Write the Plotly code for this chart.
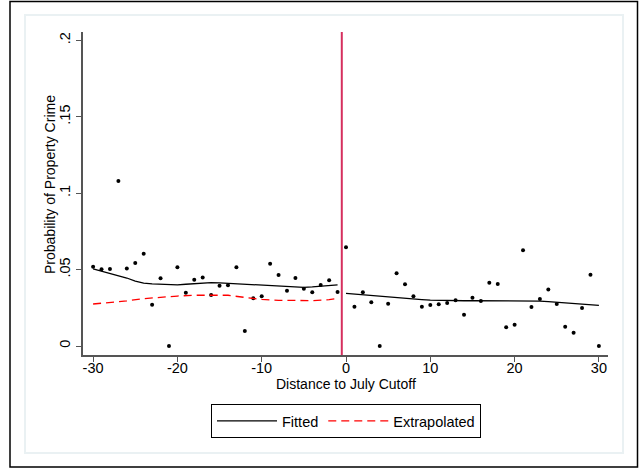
import plotly.graph_objects as go

# ---- data ----
days = list(range(-30, 31))
prob = [0.0519, 0.0502, 0.0504, 0.108, 0.0508, 0.0543, 0.0604, 0.027, 0.0443, 0.0,
        0.0515, 0.0349, 0.0434, 0.0449, 0.0334, 0.0395, 0.0397, 0.0515, 0.0098, 0.0312,
        0.0325, 0.0539, 0.0465, 0.0362, 0.0445, 0.0375, 0.0351, 0.0399, 0.043, 0.0353,
        0.0646, 0.0257, 0.0351, 0.0286, 0.0, 0.0277, 0.0476, 0.0404, 0.0325, 0.0257,
        0.0268, 0.0273, 0.0281, 0.0299, 0.0205, 0.0316, 0.0294, 0.0414, 0.0406, 0.0122,
        0.0139, 0.0626, 0.0255, 0.0308, 0.0369, 0.0275, 0.0126, 0.0087, 0.0249, 0.0467,
        0.0]

fit_left_x = list(range(-30, 0))
fit_left_y = [0.0505, 0.049, 0.0476, 0.046, 0.0445, 0.0425, 0.0412, 0.0406, 0.0403, 0.0401,
              0.0400, 0.0404, 0.0409, 0.0413, 0.0415, 0.0413, 0.0410, 0.0406, 0.0402, 0.0400,
              0.0398, 0.0394, 0.0390, 0.0387, 0.0385, 0.0384, 0.0387, 0.0390, 0.0395, 0.0400]

fit_right_x = list(range(0, 31))
fit_right_y = [0.0345, 0.0340, 0.0335, 0.0330, 0.0325, 0.0320, 0.0316, 0.0312, 0.0308, 0.0304,
               0.0300, 0.0298, 0.0297, 0.0296, 0.0296, 0.0296, 0.0296, 0.0295, 0.0295, 0.0295,
               0.0295, 0.0294, 0.0294, 0.0294, 0.0290, 0.0286, 0.0280, 0.0274, 0.0270, 0.0268,
               0.0266]

extrap_x = [-30, -28, -26, -24, -22, -20, -18, -16, -14, -12, -10, -8, -6, -4, -2, -1]
extrap_y = [0.0275, 0.0283, 0.0295, 0.0310, 0.0320, 0.0327, 0.0332, 0.0334, 0.0332, 0.0318,
            0.0305, 0.0299, 0.0296, 0.0297, 0.0303, 0.0312]

cutoff = -0.5
y_ticks = [0, 0.05, 0.1, 0.15, 0.2]
y_ticklabels = ["0", ".05", ".1", ".15", ".2"]
x_ticks = [-30, -20, -10, 0, 10, 20, 30]
x_ticklabels = ["-30", "-20", "-10", "0", "10", "20", "30"]

FONT = "Liberation Sans, Arial, sans-serif"
W, H = 643, 468
L, R, T, B = 83, 35, 32, 113
pw, ph = W - L - R, H - T - B


def px(x):
    return (x - L) / pw


def py(y):
    return (H - B - y) / ph


fig = go.Figure()
fig.add_trace(go.Scatter(x=days, y=prob, mode="markers",
                         marker=dict(color="black", size=4), showlegend=False))
fig.add_trace(go.Scatter(x=fit_left_x, y=fit_left_y, mode="lines",
                         line=dict(color="black", width=1.3), name="Fitted"))
fig.add_trace(go.Scatter(x=fit_right_x, y=fit_right_y, mode="lines",
                         line=dict(color="black", width=1.3), showlegend=False))
fig.add_trace(go.Scatter(x=extrap_x, y=extrap_y, mode="lines",
                         line=dict(color="#ff0000", width=1.3, dash="8px,5px"),
                         name="Extrapolated"))

fig.add_shape(type="line", x0=cutoff, x1=cutoff, y0=0, y1=1, xref="x", yref="paper",
              line=dict(color="#d62f5e", width=2))

# outer frame and inner panel border
fig.add_shape(type="rect", xref="paper", yref="paper",
              x0=px(25), x1=px(623), y0=py(453), y1=py(15),
              line=dict(color="#eaf1f3", width=2), layer="below")
fig.add_shape(type="rect", xref="paper", yref="paper",
              x0=px(10), x1=px(637.5), y0=py(467), y1=py(1.5),
              line=dict(color="black", width=1.5), layer="below")

fig.add_annotation(text="Probability of Property Crime", x=px(50), y=py(185),
                   xref="paper", yref="paper", textangle=-90, showarrow=False,
                   xanchor="center", yanchor="middle",
                   font=dict(family=FONT, size=14, color="black"))
fig.add_annotation(text="Distance to July Cutoff", x=px(346), y=py(384),
                   xref="paper", yref="paper", showarrow=False,
                   xanchor="center", yanchor="middle",
                   font=dict(family=FONT, size=14, color="black"))

axis_common = dict(showgrid=False, zeroline=False, showline=True, linecolor="#555555",
                   linewidth=1.5, ticks="outside", ticklen=5, tickcolor="#555555",
                   tickfont=dict(family=FONT, size=14.5, color="black"))
fig.update_xaxes(range=[(L - 346) / 8.43, (W - R - 346) / 8.43], tickvals=x_ticks,
                 ticktext=x_ticklabels, ticklabelstandoff=-6, **axis_common)
fig.update_yaxes(range=[(346 - (H - B)) / 1528, (346 - T) / 1528], tickvals=y_ticks,
                 ticktext=y_ticklabels, tickangle=-90, **axis_common)

fig.update_layout(
    width=W, height=H, margin=dict(l=L, r=R, t=T, b=B),
    paper_bgcolor="white", plot_bgcolor="white",
    font=dict(family=FONT, size=14, color="black"),
    legend=dict(orientation="h", x=px(346), y=py(404), xanchor="center", yanchor="top",
                bordercolor="black", borderwidth=1, font=dict(family=FONT, size=14.5),
                itemwidth=60, tracegroupgap=0),
)

fig.write_html("out.html")
